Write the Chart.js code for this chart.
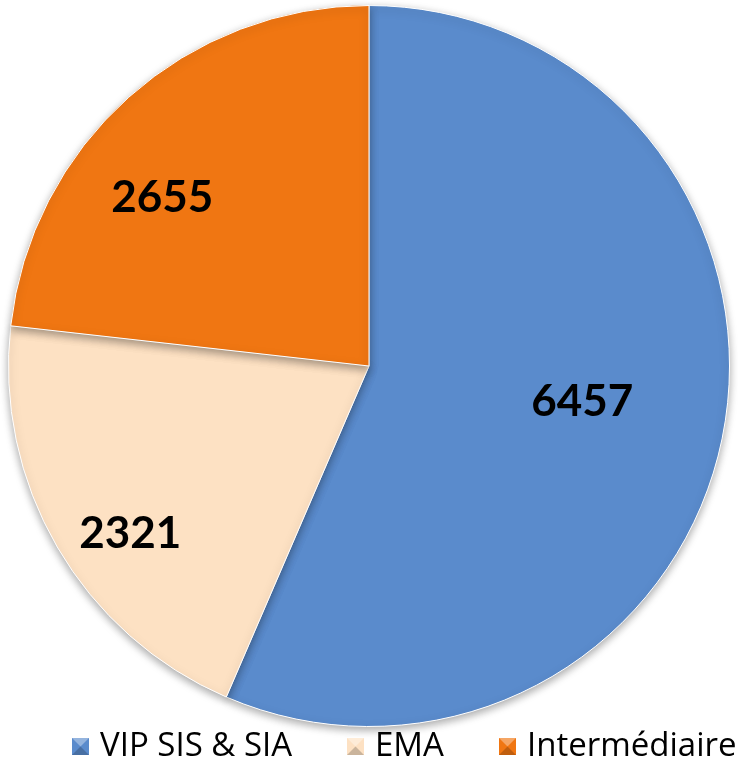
<!DOCTYPE html>
<html><head><meta charset="utf-8">
<script src="https://cdn.jsdelivr.net/npm/chart.js@4.4.0/dist/chart.umd.min.js"></script>
<style>html,body{margin:0;padding:0;background:#fff;}#wrap{width:738px;height:768px;}</style>
</head><body><div id="wrap"><canvas id="c" width="738" height="768"></canvas></div>
<script>
const categories = ["VIP SIS & SIA", "EMA", "Intermédiaire"];
const values = [6457, 2321, 2655];
const colors = ["#5A8BCC", "#FDE1C3", "#F07612"];

// label placement (fraction of radius, angle shift in degrees) - styling only
const labelPlace = [{r:0.60, a:-2}, {r:0.81, a:-5}, {r:0.74, a:-9}];

function shade(hex, f) {
  const n = parseInt(hex.slice(1), 16);
  let r = (n >> 16) & 255, g = (n >> 8) & 255, b = n & 255;
  if (f >= 0) { r += (255 - r) * f; g += (255 - g) * f; b += (255 - b) * f; }
  else { r *= (1 + f); g *= (1 + f); b *= (1 + f); }
  return `rgb(${Math.round(r)},${Math.round(g)},${Math.round(b)})`;
}

const labelPlugin = {
  id: 'sliceLabels',
  afterDatasetsDraw(chart) {
    const ctx = chart.ctx;
    const meta = chart.getDatasetMeta(0);
    ctx.save();
    ctx.font = 'bold 44px Lato';
    ctx.fillStyle = '#000';
    ctx.textAlign = 'center';
    ctx.textBaseline = 'middle';
    meta.data.forEach((arc, i) => {
      const p = arc.getProps(['x','y','startAngle','endAngle','outerRadius']);
      const mid = (p.startAngle + p.endAngle) / 2 + labelPlace[i].a * Math.PI / 180;
      const r = p.outerRadius * labelPlace[i].r;
      ctx.fillText(String(chart.data.datasets[0].data[i]), p.x + Math.cos(mid) * r, p.y + Math.sin(mid) * r);
    });
    ctx.restore();
  }
};

const legendPlugin = {
  id: 'bottomLegend',
  afterDraw(chart) {
    const ctx = chart.ctx;
    const labels = chart.data.labels;
    const bg = chart.data.datasets[0].backgroundColor;
    const box = 17, gapText = 11, gapItem = 55, cy = 746;
    ctx.save();
    ctx.font = '33px "Open Sans"';
    const widths = labels.map(l => box + gapText + ctx.measureText(l).width);
    const total = widths.reduce((a, b) => a + b, 0) + gapItem * (labels.length - 1);
    let x = 404 - total / 2;
    labels.forEach((l, i) => {
      const bx = Math.round(x), by = Math.round(cy - box / 2);
      const c = bg[i];
      ctx.fillStyle = c;
      ctx.fillRect(bx, by, box, box);
      // bevel
      ctx.fillStyle = shade(c, 0.35);
      ctx.beginPath(); ctx.moveTo(bx, by); ctx.lineTo(bx + box, by); ctx.lineTo(bx + box / 2, by + box / 2); ctx.closePath(); ctx.fill();
      ctx.fillStyle = shade(c, -0.2);
      ctx.beginPath(); ctx.moveTo(bx, by + box); ctx.lineTo(bx + box, by + box); ctx.lineTo(bx + box / 2, by + box / 2); ctx.closePath(); ctx.fill();
      ctx.fillStyle = '#000';
      ctx.textAlign = 'left';
      ctx.textBaseline = 'middle';
      ctx.fillText(l, bx + box + gapText, cy + 1);
      x += widths[i] + gapItem;
    });
    ctx.restore();
  }
};

const shadowPlugin = {
  id: 'shadow',
  beforeDatasetsDraw(chart) {
    chart.ctx.save();
    chart.ctx.shadowColor = 'rgba(0,0,0,0.35)';
    chart.ctx.shadowBlur = 8;
    chart.ctx.shadowOffsetY = 3;
  },
  afterDatasetsDraw(chart) { chart.ctx.restore(); }
};

new Chart(document.getElementById('c'), {
  type: 'pie',
  data: {
    labels: categories,
    datasets: [{
      data: values,
      backgroundColor: colors,
      borderColor: '#ffffff',
      borderWidth: 1
    }]
  },
  options: {
    responsive: false,
    animation: false,
    layout: { padding: { top: 5, bottom: 41, left: 0, right: 0 } },
    plugins: {
      tooltip: { enabled: false },
      legend: { display: false }
    }
  },
  plugins: [shadowPlugin, labelPlugin, legendPlugin]
});
</script></body></html>
